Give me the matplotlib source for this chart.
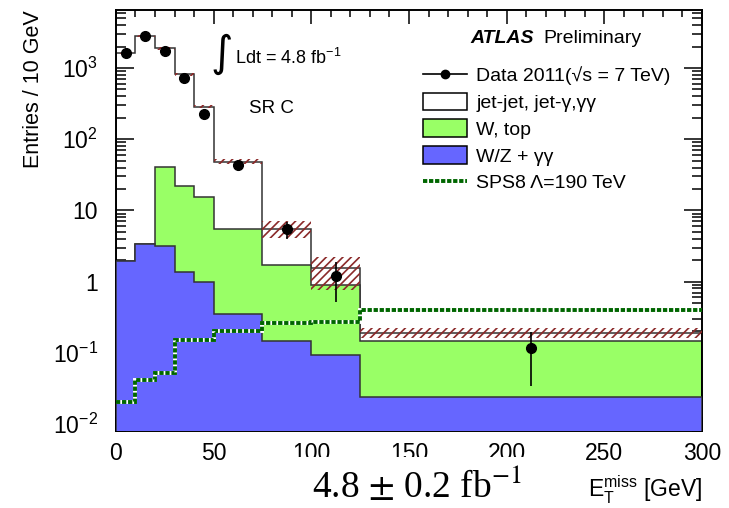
import matplotlib
matplotlib.use('Agg')
import matplotlib.pyplot as plt
import numpy as np
from matplotlib.lines import Line2D
from matplotlib.patches import Patch, Rectangle
from matplotlib.ticker import FixedLocator, FixedFormatter, LogLocator, MultipleLocator

plt.rcParams['font.family'] = ['Liberation Sans', 'DejaVu Sans']
plt.rcParams['mathtext.fontset'] = 'custom'
plt.rcParams['mathtext.rm'] = 'Liberation Sans'
plt.rcParams['mathtext.it'] = 'Liberation Sans:italic'
plt.rcParams['mathtext.bf'] = 'Liberation Sans:bold'
plt.rcParams['hatch.linewidth'] = 1.2

# bin edges in GeV
edges = [0, 10, 20, 30, 40, 50, 75, 100, 125, 300]

# background yields per process (entries / 10 GeV)
wz_gg = [1.95, 3.42, 3.13, 1.36, 1.0, 0.355, 0.145, 0.094, 0.024]
w_top = [0.0, 0.0, 37.6, 20.6, 14.4, 5.2, 1.545, 0.786, 0.121]
jet_jet = [1618, 2807, 1849, 793, 272, 42.4, 3.86, 0.69, 0.047]

# total background uncertainty band
band_up = [1700, 2930, 1980, 850, 300, 53, 7.1, 2.2, 0.223]
band_down = [1550, 2700, 1800, 780, 275, 45.5, 4.15, 0.76, 0.163]

# signal
sps8 = [0.020, 0.041, 0.052, 0.15, 0.15, 0.20, 0.262, 0.274, 0.40]

# data
data_x = [5, 15, 25, 35, 45, 62.5, 87.5, 112.5, 212.5]
data_y = [1620, 2780, 1715, 717, 226, 44, 5.48, 1.2, 0.115]
data_err = [40, 53, 41, 27, 15, 4.2, 1.48, 0.69, 0.081]

edges = np.array(edges, dtype=float)
lvl_blue = np.array(wz_gg)
lvl_green = lvl_blue + np.array(w_top)
lvl_total = lvl_green + np.array(jet_jet)

fig = plt.figure(figsize=(7.29, 5.08), dpi=100)
ax = fig.add_axes([0.159, 0.152, 0.804, 0.828])
ax.set_yscale('log')

base = 1e-4
ax.stairs(lvl_total, edges, baseline=base, fill=True, facecolor='white',
          edgecolor='none', zorder=1)
ax.stairs(lvl_total, edges, baseline=base, fill=False, color='#333333',
          linewidth=1.1, zorder=1.1)
ax.stairs(lvl_green, edges, baseline=base, fill=True, facecolor='#99ff66',
          edgecolor='none', zorder=2)
ax.stairs(lvl_green, edges, baseline=base, fill=False, color='#333333',
          linewidth=1.1, zorder=2.1)
ax.stairs(lvl_blue, edges, baseline=base, fill=True, facecolor='#6666ff',
          edgecolor='none', zorder=3)
ax.stairs(lvl_blue, edges, baseline=base, fill=False, color='#333333',
          linewidth=1.1, zorder=3.1)

# hatched uncertainty
widths = np.diff(edges)
ax.bar(edges[:-1], np.array(band_up) - np.array(band_down), width=widths,
       bottom=band_down, align='edge', fill=False, hatch='////',
       edgecolor='#8b2a2a', linewidth=0, zorder=4)

# signal line: white underlay + dashed dark green
ax.stairs(sps8, edges, baseline=None, color='white', linewidth=2.8, zorder=5)
ax.stairs(sps8, edges, baseline=None, color='#006600', linewidth=2.8,
          linestyle=(0, (1.1, 0.45)), zorder=5.1)

ax.errorbar(data_x, data_y, yerr=data_err, fmt='o', color='black',
            markersize=7, elinewidth=1.2, capsize=0, zorder=6)

ax.set_xlim(0, 300)
ax.set_ylim(0.008, 6500)

ax.xaxis.set_major_locator(MultipleLocator(50))
ax.xaxis.set_minor_locator(MultipleLocator(10))
ax.yaxis.set_major_locator(FixedLocator([1e-2, 1e-1, 1, 10, 1e2, 1e3]))
ax.yaxis.set_major_formatter(FixedFormatter(
    [r'$10^{-2}$', r'$10^{-1}$', '1', '10', r'$10^{2}$', r'$10^{3}$']))
ax.yaxis.set_minor_locator(LogLocator(base=10, subs=np.arange(2, 10), numticks=20))
ax.yaxis.set_minor_formatter(FixedFormatter([]))

ax.tick_params(axis='both', which='both', direction='in', top=True, right=True,
               labelsize=16.5, width=1.1)
ax.tick_params(axis='x', which='major', length=10, pad=8)
ax.tick_params(axis='x', which='minor', length=5)
ax.tick_params(axis='y', which='major', length=13, pad=13)
ax.tick_params(axis='y', which='minor', length=7)
for s in ax.spines.values():
    s.set_linewidth(1.4)

ax.set_ylabel('Entries / 10 GeV', fontsize=15.5, loc='top', labelpad=6)

ax.text(0.181, 0.895, '\u222b', fontsize=31, family='DejaVu Sans',
        transform=ax.transAxes, ha='center', va='center')
ax.text(0.203, 0.886, r'Ldt = 4.8 fb$^{-1}$', fontsize=13,
        transform=ax.transAxes, ha='left', va='center')
ax.text(0.227, 0.767, 'SR C', fontsize=13.5, transform=ax.transAxes,
        ha='left', va='center')
ax.text(0.604, 0.933, 'ATLAS', fontsize=14, fontweight='bold', style='italic',
        transform=ax.transAxes, ha='left', va='center')
ax.text(0.730, 0.933, 'Preliminary', fontsize=14, transform=ax.transAxes,
        ha='left', va='center')

handles = [
    Line2D([], [], color='black', marker='o', markersize=6, linewidth=1.2),
    Patch(facecolor='white', edgecolor='black', linewidth=1.1),
    Patch(facecolor='#99ff66', edgecolor='black', linewidth=1.1),
    Patch(facecolor='#6666ff', edgecolor='black', linewidth=1.1),
    Line2D([], [], color='#006600', linewidth=2.8, linestyle=(0, (1.1, 0.45))),
]
labels = ['Data 2011(\u221As = 7 TeV)', 'jet-jet, jet-\u03b3,\u03b3\u03b3',
          'W, top', 'W/Z + \u03b3\u03b3', 'SPS8 \u039b=190 TeV']
ax.legend(handles, labels, loc='upper left', bbox_to_anchor=(0.51, 0.886),
          frameon=False, fontsize=14, handlelength=2.3, handleheight=1.0,
          labelspacing=0.38, handletextpad=0.46, borderaxespad=0)

fig.text(0.963, 0.035, r'E$_\mathregular{T}^\mathregular{miss}$ [GeV]',
         fontsize=16.5, ha='right', va='center')

# pasted luminosity label covering part of the tick labels
fig.patches.append(Rectangle((250 / 729, 0), 310 / 729, 51 / 508,
                             transform=fig.transFigure, facecolor='white',
                             edgecolor='none', zorder=10))
fig.text(0.572, 0.043, r'4.8 $\pm$ 0.2 fb$^{-1}$', fontsize=27,
         family=['Liberation Serif', 'DejaVu Serif'], math_fontfamily='stix',
         ha='center', va='center', zorder=11)

fig.savefig('out.png', dpi=100)
